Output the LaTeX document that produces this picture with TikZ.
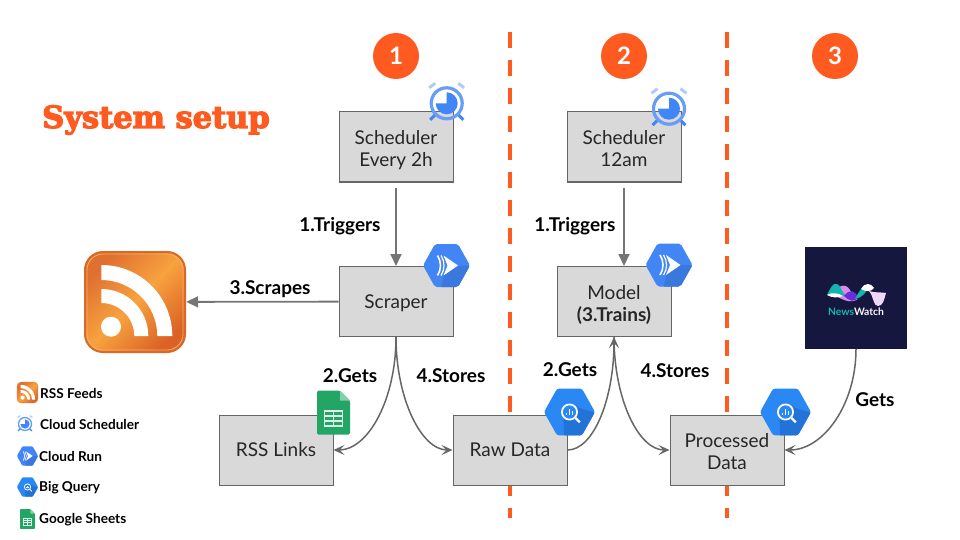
\documentclass[tikz,border=0pt]{standalone}
\usepackage{fontspec}
\usepackage{tikz}
\usetikzlibrary{arrows.meta}
\setmainfont{Lato}
\newfontfamily\titlefont[BoldFeatures={FakeBold=4}]{DejaVu Serif}

\definecolor{signal}{HTML}{FF5A1F}
\definecolor{boxgrey}{HTML}{D9D9D9}
\definecolor{linegrey}{HTML}{666666}
\definecolor{runblue}{HTML}{4285F4}
\definecolor{runshade}{HTML}{3B78DE}
\definecolor{queryblue}{HTML}{2A88F5}
\definecolor{queryshade}{HTML}{2272D8}
\definecolor{clockring}{HTML}{669DF6}
\definecolor{clockear}{HTML}{AECBFA}
\definecolor{sheetgreen}{HTML}{23A566}
\definecolor{sheetfold}{HTML}{87CEAC}
\definecolor{newsnavy}{HTML}{15173F}
\definecolor{newsteal}{HTML}{12B5B0}
\definecolor{newspink}{HTML}{D98BE8}
\definecolor{newspurple}{HTML}{6A2BD9}
\definecolor{rssdark}{HTML}{DF7030}
\definecolor{rsslight}{HTML}{F8A23F}
\definecolor{rssdeep}{HTML}{DB6226}
\definecolor{rssrim}{HTML}{D9692B}

\newcommand{\hexpath}{(-23.5,0) -- (-11.5,21.5) -- (11.5,21.5) -- (23.5,0) -- (11.5,-21.5) -- (-11.5,-21.5) -- cycle}

\newcommand{\rssicon}[3]{
\begin{scope}[shift={(#1,#2)},x=#3pt,y=#3pt]
\draw[draw=rssrim,line width=#3*2pt,rounded corners=#3*18pt,top color=rssdark,bottom color=rssdeep,middle color=rsslight,shading angle=45] (-50,-50) rectangle (50,50);
\draw[rsslight!85!white,line width=#3*.8pt,rounded corners=#3*16pt] (-48,-48) rectangle (48,48);
\fill[white] (-33.7,-34) ++(0,33) arc (90:0:33) -- ++(14,0) arc (0:90:47) -- cycle;
\fill[white] (-33.7,-34) ++(0,56) arc (90:0:56) -- ++(15,0) arc (0:90:71) -- cycle;
\fill[white] (-24,-24.7) circle (10);
\end{scope}
}

\newcommand{\clockicon}[3]{
\begin{scope}[shift={(#1,#2)},x=#3pt,y=#3pt]
\draw[clockear,line width=#3*3pt] (-17.5,15.5) -- (-11.5,20);
\draw[clockear,line width=#3*3pt] (17.5,15.5) -- (11.5,20);
\draw[runblue,line width=#3*3pt] (-16.5,-16.5) -- (-11,-11);
\draw[runblue,line width=#3*3pt] (16.5,-16.5) -- (11,-11);
\draw[clockring,line width=#3*3.2pt] (0,0) circle (15.5);
\fill[runblue] (0,0) -- (0,11) arc (90:-180:11) -- cycle;
\end{scope}
}

\newcommand{\runicon}[3]{
\begin{scope}[shift={(#1,#2)},x=#3pt,y=#3pt]
\fill[runblue,rounded corners=#3*2pt] \hexpath;
\begin{scope}
\clip[rounded corners=#3*2pt] \hexpath;
\fill[runshade] (11.5,0) -- (24,0) -- (12,-22) -- (-5,-22) -- (-3,-10) -- cycle;
\end{scope}
\fill[white] (11.5,0) -- (-3,10) -- (1,0) -- (-3,-10) -- cycle;
\draw[white,line width=#3*1.6pt] (-9,10) .. controls (-5,4) and (-5,-4) .. (-9,-10);
\draw[white,line width=#3*1.2pt] (-5.5,10) .. controls (-1.5,4) and (-1.5,-4) .. (-5.5,-10);
\end{scope}
}

\newcommand{\queryicon}[3]{
\begin{scope}[shift={(#1,#2)},x=#3pt,y=#3pt]
\fill[queryblue,rounded corners=#3*2pt] \hexpath;
\begin{scope}
\clip[rounded corners=#3*2pt] \hexpath;
\fill[queryshade] (4,5.5) -- (24,-1) -- (12,-22) -- (-5,-22) -- (-5.5,-5) -- cycle;
\end{scope}
\fill[queryblue] (0,0) circle (7);
\draw[white,line width=#3*1.6pt] (0,0) circle (7);
\draw[white,line width=#3*2pt] (5.3,-5.3) -- (9.5,-9.5);
\draw[white,line width=#3*1.2pt] (-2.7,-3.2) -- (-2.7,-.5);
\draw[white,line width=#3*1.2pt] (0,-3.2) -- (0,2.5);
\draw[white,line width=#3*1.2pt] (2.7,-3.2) -- (2.7,.5);
\end{scope}
}

\newcommand{\sheeticon}[3]{
\begin{scope}[shift={(#1,#2)},x=#3pt,y=#3pt]
\fill[sheetgreen,rounded corners=#3*1.5pt] (-16.5,-22) -- (-16.5,22) -- (6.5,22) -- (16.5,12) -- (16.5,-22) -- cycle;
\fill[sheetfold] (6.5,22) -- (16.5,12) -- (6.5,12) -- cycle;
\draw[white!85!sheetgreen,line width=#3*1.2pt] (-8.8,-13.3) rectangle (9.2,1.7);
\draw[white!85!sheetgreen,line width=#3*1.2pt] (-8.8,-3.3) -- (9.2,-3.3);
\draw[white!85!sheetgreen,line width=#3*1.2pt] (-8.8,-8.3) -- (9.2,-8.3);
\draw[white!85!sheetgreen,line width=#3*1.2pt] (.2,-13.3) -- (.2,1.7);
\end{scope}
}

\begin{document}
\begin{tikzpicture}[x=1pt,y=-1pt,
  stepbox/.style={draw=linegrey,fill=boxgrey,line width=1pt,minimum width=114pt,minimum height=70pt,align=center,inner sep=0pt,text=black!85,font=\fontsize{19}{22}\selectfont,execute at begin node={\rule{0pt}{18pt}},execute at end node={\rule[-5pt]{0pt}{5pt}}},
  twoline/.style={stepbox,execute at begin node={\rule{0pt}{44pt}}},
  badge/.style={circle,fill=signal,minimum size=46pt,inner sep=0pt,text=white,font=\bfseries\fontsize{24}{24}\selectfont},
  lab/.style={font=\bfseries\fontsize{19}{22}\selectfont,inner sep=0pt},
  legend/.style={font=\bfseries\fontsize{13.6}{16}\selectfont,anchor=west,inner sep=0pt},
  straight/.style={draw=linegrey!90!white,line width=1.8pt,-{Stealth[length=12pt,width=11pt,inset=0pt]}},
  bent/.style={draw=linegrey,line width=1.5pt,-{Stealth[length=11pt,width=10pt,inset=5pt]}},
  divider/.style={draw=signal,line width=3.6pt,dash pattern=on 16pt off 12pt}]

\useasboundingbox (0,0) rectangle (960,540);

\coordinate (top1) at (510,32);
\coordinate (bot1) at (510,518);
\coordinate (top2) at (727,32);
\coordinate (bot2) at (727,518);
\draw[divider] (top1) -- (bot1);
\draw[divider] (top2) -- (bot2);

\node[badge] (one) at (396,56) {1};
\node[badge] (two) at (624,56) {2};
\node[badge] (three) at (835,56) {3};

\node[anchor=center,text=signal,inner sep=0pt,font=\titlefont\bfseries\fontsize{30.5}{32}\selectfont] (title) at (156,120) {System setup};

\node[twoline] (sched1) at (396,147) {Scheduler\\Every 2h};
\node[stepbox] (scraper) at (396,301.5) {Scraper};
\node[stepbox] (links) at (276,450) {RSS Links};
\node[stepbox] (raw) at (510,450) {Raw Data};
\node[twoline] (sched2) at (624,147) {Scheduler\\12am};
\node[twoline] (model) at (614,301.5) {Model\\\textbf{(3.Trains)}};
\node[twoline] (processed) at (727,450) {Processed\\Data};
\node[minimum size=102pt,inner sep=0pt] (feeds) at (135,302) {};
\node[fill=newsnavy,minimum size=102pt,inner sep=0pt] (news) at (856,298) {};

\rssicon{135}{302}{1}
\clockicon{446.7}{103.3}{1}
\clockicon{669}{108.7}{1}
\runicon{446.5}{265.5}{1}
\runicon{669}{265}{1}
\queryicon{569.5}{412}{1.085}
\queryicon{785.5}{412}{1.085}
\sheeticon{333.5}{412.7}{1}

% newswatch logo
\fill[newspink] (834,295) .. controls (839,282) and (848,284) .. (851,292) .. controls (853,297) and (855,300) .. (858,299) .. controls (851,304) and (843,300) .. (834,295) -- cycle;
\fill[newsteal] (827,295) .. controls (830,289) and (833,282) .. (837,284) .. controls (841,285) and (841,292) .. (846,296) .. controls (840,297) and (834,295) .. (827,295) -- cycle;
\fill[white] (827,295) .. controls (832,292) and (838,293) .. (843,296) .. controls (838,298) and (832,298) .. (827,295) -- cycle;
\fill[newspurple] (844,296) .. controls (850,288) and (855,291) .. (858,297) .. controls (855,303) and (849,301) .. (844,296) -- cycle;
\fill[newsteal] (855,299) .. controls (859,292) and (861,286) .. (869,286) .. controls (867,292) and (862,298) .. (855,299) -- cycle;
\fill[white] (861,289) .. controls (865,282) and (871,283) .. (874,288) .. controls (871,292) and (866,292) .. (861,289) -- cycle;
\fill[newspink!35!white] (869,291) .. controls (875,293) and (881,292) .. (886,293) .. controls (884,300) and (883,306) .. (878,306) .. controls (873,306) and (874,297) .. (869,291) -- cycle;
\node[inner sep=0pt,font=\bfseries\fontsize{10.3}{12}\selectfont] (brand) at (856,312) {\textcolor{newsteal}{News}\textcolor{white!90!newspink}{Watch}};

\draw[straight,shorten <=5pt] (sched1) -- (scraper);
\draw[straight,shorten <=5pt] (sched2.south) -- (sched2.south |- model.north);
\draw[straight] (scraper) -- (feeds);
\draw[bent] (scraper.south) .. controls +(0,62) and +(35,0) .. (links.east);
\draw[bent] (scraper.south) .. controls +(0,62) and +(-31,0) .. (raw.west);
\draw[bent] (raw.east) .. controls +(26,0) and +(0,62) .. (model.south);
\draw[bent] (model.south) .. controls +(0,62) and +(-31,0) .. (processed.west);
\draw[bent] (news.south) .. controls +(0,55) and +(39,0) .. (processed.east);

\node[lab] (trig1) at (340,226) {1.Triggers};
\node[lab] (trig2) at (575,226) {1.Triggers};
\node[lab] (scrapes) at (270,289) {3.Scrapes};
\node[lab] (gets1) at (350,376) {2.Gets};
\node[lab] (stores1) at (451,376) {4.Stores};
\node[lab] (gets2) at (570,370) {2.Gets};
\node[lab] (stores2) at (675,371) {4.Stores};
\node[lab] (gets3) at (875,400) {Gets};

\rssicon{27.5}{392.5}{.206}
\clockicon{25}{424}{.42}
\runicon{27.5}{456}{.45}
\queryicon{27.5}{487}{.45}
\sheeticon{27.5}{519}{.45}

\node[legend] (key1) at (40,393) {RSS Feeds};
\node[legend] (key2) at (40,424.5) {Cloud Scheduler};
\node[legend] (key3) at (39,456.5) {Cloud Run};
\node[legend] (key4) at (39,488) {Big Query};
\node[legend] (key5) at (39,519.5) {Google Sheets};

\end{tikzpicture}
\end{document}
